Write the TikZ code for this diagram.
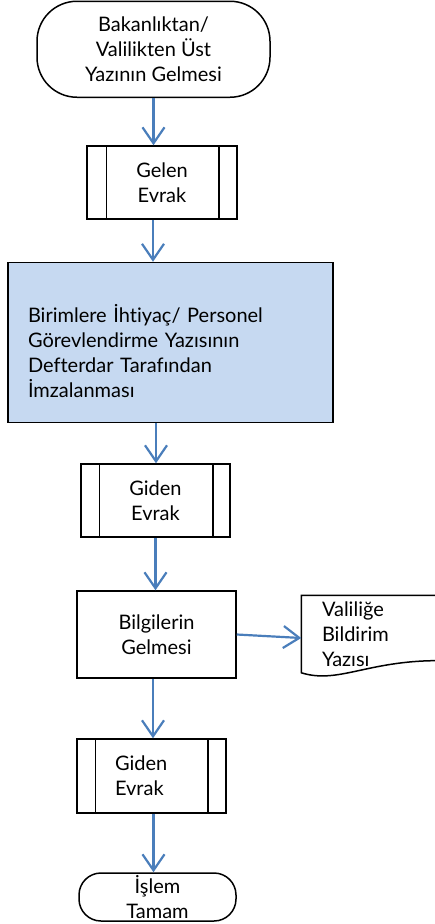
\documentclass[tikz,border=0pt]{standalone}
\usepackage{fontspec}
\setmainfont[Ligatures={NoCommon,NoDiscretionary}]{Lato}
\usetikzlibrary{arrows.meta,calc}
\definecolor{arrowblue}{RGB}{74,126,187}
\definecolor{fillblue}{RGB}{198,217,241}
\tikzset{
  base/.style={draw=black, line width=1.5pt, font=\fontsize{20}{25}\selectfont, inner sep=0pt},
  terminal/.style={base, rectangle, rounded corners=#1, align=center},
  procbox/.style={base, rectangle, align=center},
  flowarrow/.style={draw=arrowblue, line width=2.2pt, -{Straight Barb[length=16pt,width=22pt,line width=2.2pt]}},
  sideline/.style={line width=1.5pt},
}
\begin{document}
\begin{tikzpicture}[x=1pt,y=-1pt]
\useasboundingbox (0,0) rectangle (435,924);
% nodes
\node[terminal=40pt, minimum width=233pt, minimum height=96pt] (start) at (153.5,49.25)
  {Bakanlıktan/\\Valilikten Üst\\Yazının Gelmesi};
\node[procbox, minimum width=150pt, minimum height=73pt] (gelen) at (162,182.5) {Gelen\\Evrak};
\node[procbox, fill=fillblue, minimum width=325pt, minimum height=160pt] (onay) at (170.5,342.5) {};
\node[base, draw=none, text width=285pt, align=left] (onaytext) at (170.5,351)
  {Birimlere İhtiyaç/ Personel\\Görevlendirme Yazısının\\Defterdar Tarafından\\İmzalanması};
\node[procbox, minimum width=149pt, minimum height=73pt] (giden1) at (155.5,500.5) {Giden\\Evrak};
\node[procbox, minimum width=159pt, minimum height=87pt] (bilgi) at (156.5,634.5) {Bilgilerin\\Gelmesi};
\node[base, draw=none, minimum width=138pt, minimum height=76pt, text width=98pt, inner xsep=20pt, align=left] (doc) at (371,634)
  {Valiliğe\\Bildirim\\Yazısı};
\node[procbox, minimum width=149pt, minimum height=74pt, text width=73pt, inner xsep=38pt, align=left] (giden2) at (151.5,776) {Giden\\Evrak};
\node[terminal=22pt, minimum width=157pt, minimum height=48pt] (end) at (157.5,897) {İşlem\\Tamam};
% predefined process side lines
\foreach \n/\l/\r in {gelen/20/19, giden1/19/18, giden2/19/19}{
  \draw[sideline] ([xshift=\l pt]\n.north west) -- ([xshift=\l pt]\n.south west);
  \draw[sideline] ([xshift=-\r pt]\n.north east) -- ([xshift=-\r pt]\n.south east);
}
% document shape
\draw[line width=1.5pt] ([xshift=6pt]doc.north east) -- (doc.north west) -- (doc.south west)
  .. controls ([xshift=38pt,yshift=-12pt]doc.south west) and ([xshift=68pt,yshift=14pt]doc.south west) .. ([xshift=6pt,yshift=12pt]doc.south east);
% connectors
\draw[flowarrow] (start.south) -- (start.south |- gelen.north);
\draw[flowarrow] ([xshift=-9pt]gelen.south) -- ([xshift=-9pt]gelen.south |- onay.north);
\draw[flowarrow] ([xshift=-14.5pt]onay.south) -- ([xshift=-14.5pt]onay.south |- giden1.north);
\draw[flowarrow] (giden1.south) -- (giden1.south |- bilgi.north);
\draw[flowarrow] (bilgi.east) -- ([yshift=-4pt]doc.west);
\draw[flowarrow] ([xshift=-3.5pt]bilgi.south) -- ([xshift=-3.5pt]bilgi.south |- giden2.north);
\draw[flowarrow] ([xshift=2pt]giden2.south) -- ([xshift=2pt]giden2.south |- end.north);
\end{tikzpicture}
\end{document}
